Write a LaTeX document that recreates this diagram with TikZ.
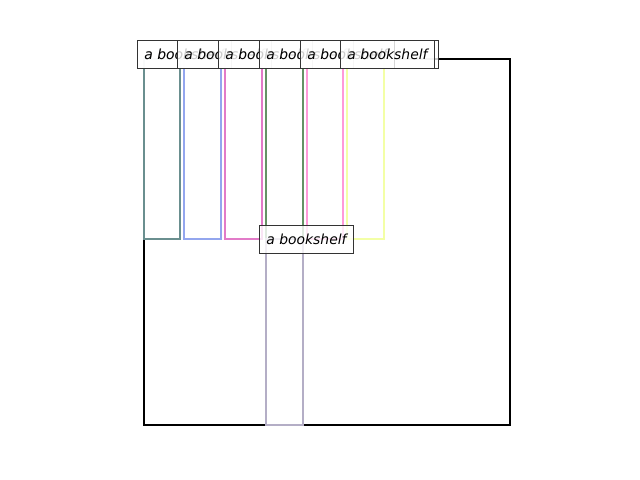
\documentclass[tikz,border=0pt]{standalone}
\usepackage{fontspec}
\usepackage{xcolor}
\usepackage{tikz}
\usetikzlibrary{positioning}
\newfontfamily\labelfont{DejaVu Sans}
\definecolor{shelfline}{HTML}{000000}
\definecolor{bookteal}{HTML}{6A8F8F}
\definecolor{bookblue}{HTML}{93A6EE}
\definecolor{bookpink}{HTML}{E27BC8}
\definecolor{bookgreen}{HTML}{659265}
\definecolor{booklight}{HTML}{FF9AD8}
\definecolor{bookyellow}{HTML}{F3FFA6}
\definecolor{booklav}{HTML}{B4AEC6}

\begin{document}
\begin{tikzpicture}[x=0.02cm, y=-0.02cm,
    bk/.style={line width=1.15pt},
    lbl/.style={rectangle, draw=black!80, line width=0.55pt, fill=white, fill opacity=0.8, text opacity=1, anchor=west, minimum height=0.56cm, inner xsep=0.14cm, inner ysep=0pt, font=\labelfont\itshape\fontsize{7.9}{9}\selectfont}
]
    \useasboundingbox (0,0) rectangle (640,480);
    % Shelf
    \draw[line width=1.15pt, shelfline] (144,59) rectangle (510,425);
    % Books
    \draw[bk, bookteal] (144,59) rectangle (180,239);
    \draw[bk, bookblue] (184,59) rectangle (221,239);
    \draw[bk, bookpink] (225,59) rectangle (262,239);
    \draw[bk, bookgreen] (266,59) rectangle (303,239);
    \draw[bk, booklight] (307,59) rectangle (343,239);
    \draw[bk, bookyellow] (347,59) rectangle (384,239);
    \draw[bk, booklav] (266,239) rectangle (303,425);
    % Labels
    \node[lbl, minimum width=301*0.02cm, text width=(301-14)*0.02cm] (shelflbl) at (137,54) {a bookshelf};
    \node[lbl] (lbl1) at (137,54) {a bookshelf};
    \node[lbl] (lbl2) at (177,54) {a bookshelf};
    \node[lbl] (lbl3) at (218,54) {a bookshelf};
    \node[lbl] (lbl4) at (259,54) {a bookshelf};
    \node[lbl] (lbl5) at (300,54) {a bookshelf};
    \node[lbl] (lbl6) at (340,54) {a bookshelf};
    \node[lbl] (lbl7) at (259,239) {a bookshelf};
\end{tikzpicture}
\end{document}
